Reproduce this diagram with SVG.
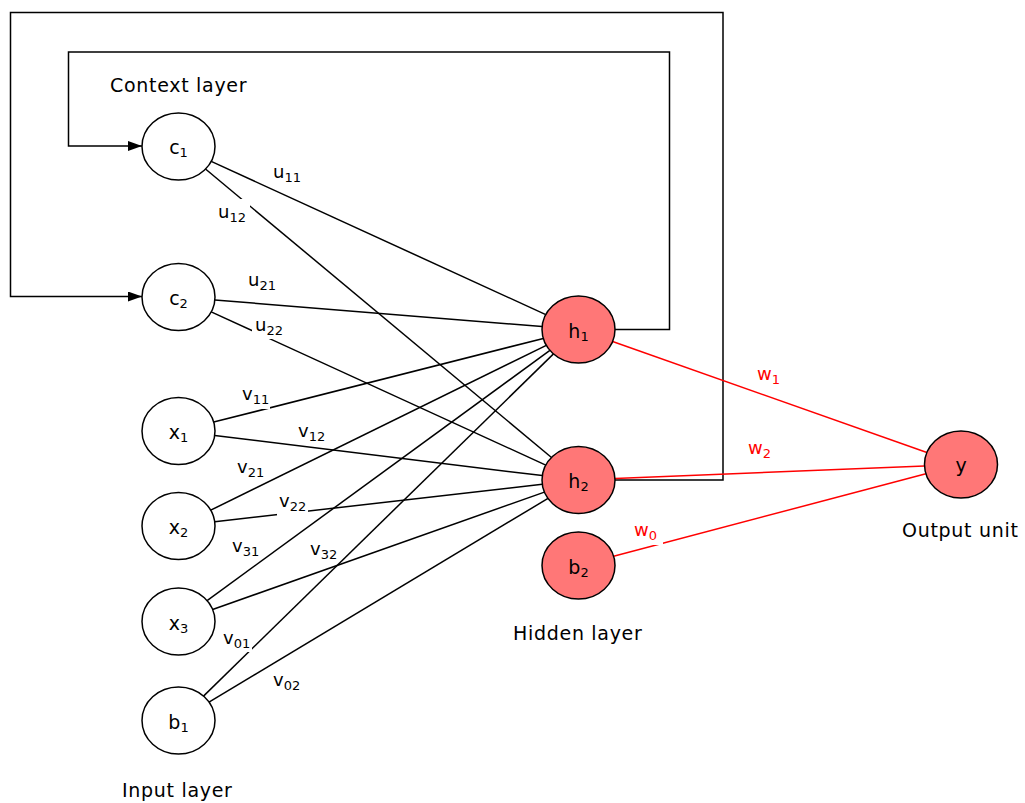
<svg xmlns="http://www.w3.org/2000/svg" width="1025" height="803" viewBox="0 0 1025 803">
<style>
.edge{stroke:#000;stroke-width:1.5;fill:none}
.red{stroke:#ff0000;stroke-width:1.5;fill:none}
.node{fill:#fff;stroke:#000;stroke-width:1.5}
.rnode{fill:#ff7777;stroke:#000;stroke-width:1.5}
.nl{font-family:"DejaVu Sans",sans-serif;font-size:19px;fill:#000;text-anchor:middle}
.el{font-family:"DejaVu Sans",sans-serif;font-size:18px;fill:#000}
.rl{font-family:"DejaVu Sans",sans-serif;font-size:18px;fill:#ff0000}
.sub{font-size:13px}
.big{font-family:"DejaVu Sans",sans-serif;font-size:19px;fill:#000;letter-spacing:0.7px}
.gap{fill:#fff}
</style>
<defs>
<marker id="arr" markerUnits="userSpaceOnUse" markerWidth="14" markerHeight="10" refX="14" refY="5" orient="auto">
<path d="M0,0 L14,5 L0,10 z" fill="#000"/>
</marker>
</defs>
<rect width="1025" height="803" fill="#fff"/>
<g id="connectors">
<polyline class="edge" points="615,480 723,480 723,12.5 10.5,12.5 10.5,296.5 142,296.5" marker-end="url(#arr)"/>
<polyline class="edge" points="615,329.5 669.5,329.5 669.5,52 68.5,52 68.5,146 142,146" marker-end="url(#arr)"/>
<line class="edge" x1="211.2" y1="161.4" x2="545.8" y2="314.6"/>
<line class="edge" x1="205.5" y1="169.0" x2="551.5" y2="457.5"/>
<line class="edge" x1="214.9" y1="300.0" x2="542.1" y2="326.5"/>
<line class="edge" x1="211.2" y1="311.9" x2="545.8" y2="465.1"/>
<line class="edge" x1="213.7" y1="422.1" x2="543.3" y2="338.4"/>
<line class="edge" x1="214.7" y1="435.4" x2="542.3" y2="475.6"/>
<line class="edge" x1="210.7" y1="510.2" x2="546.3" y2="345.3"/>
<line class="edge" x1="214.7" y1="521.8" x2="542.3" y2="484.2"/>
<line class="edge" x1="207.1" y1="600.6" x2="549.9" y2="350.4"/>
<line class="edge" x1="212.6" y1="609.5" x2="544.4" y2="492.1"/>
<line class="edge" x1="203.5" y1="696.1" x2="553.5" y2="353.9"/>
<line class="edge" x1="209.0" y1="702.1" x2="548.0" y2="498.4"/>
<line class="red" x1="612.6" y1="341.5" x2="926.9" y2="452.5"/>
<line class="red" x1="615.0" y1="478.5" x2="924.5" y2="466.0"/>
<line class="red" x1="613.6" y1="556.2" x2="925.9" y2="473.8"/>
</g>
<g id="edge-labels">
<rect class="gap" x="217" y="199" width="33" height="26"/>
<rect class="gap" x="252" y="316" width="34" height="23"/>
<rect class="gap" x="240" y="385" width="30" height="24"/>
<rect class="gap" x="277" y="490" width="31" height="26"/>
<rect class="gap" x="222" y="630" width="30" height="22"/>
<rect class="gap" x="633" y="524" width="30" height="21"/>
<text class="el" x="273" y="178">u<tspan class="sub" dy="4">11</tspan></text>
<text class="el" x="218" y="218">u<tspan class="sub" dy="4">12</tspan></text>
<text class="el" x="248" y="286">u<tspan class="sub" dy="4">21</tspan></text>
<text class="el" x="255" y="331">u<tspan class="sub" dy="4">22</tspan></text>
<text class="el" x="242" y="400">v<tspan class="sub" dy="4">11</tspan></text>
<text class="el" x="298" y="437">v<tspan class="sub" dy="4">12</tspan></text>
<text class="el" x="237" y="473">v<tspan class="sub" dy="4">21</tspan></text>
<text class="el" x="279" y="507">v<tspan class="sub" dy="4">22</tspan></text>
<text class="el" x="232" y="552">v<tspan class="sub" dy="4">31</tspan></text>
<text class="el" x="310" y="555">v<tspan class="sub" dy="4">32</tspan></text>
<text class="el" x="223" y="644">v<tspan class="sub" dy="4">01</tspan></text>
<text class="el" x="273" y="686">v<tspan class="sub" dy="4">02</tspan></text>
<text class="rl" x="757" y="380">w<tspan class="sub" dy="4">1</tspan></text>
<text class="rl" x="748" y="454">w<tspan class="sub" dy="4">2</tspan></text>
<text class="rl" x="634" y="536">w<tspan class="sub" dy="4">0</tspan></text>
</g>
<g id="c1"><ellipse class="node" cx="178.5" cy="146.5" rx="36.5" ry="33.5"/><text class="nl" x="178.5" y="154">c<tspan class="sub" dy="3">1</tspan></text></g>
<g id="c2"><ellipse class="node" cx="178.5" cy="297" rx="36.5" ry="33.5"/><text class="nl" x="178.5" y="305">c<tspan class="sub" dy="3">2</tspan></text></g>
<g id="x1"><ellipse class="node" cx="178.5" cy="431" rx="36.5" ry="33.5"/><text class="nl" x="178.5" y="439">x<tspan class="sub" dy="3">1</tspan></text></g>
<g id="x2"><ellipse class="node" cx="178.5" cy="526" rx="36.5" ry="33.5"/><text class="nl" x="178.5" y="534">x<tspan class="sub" dy="3">2</tspan></text></g>
<g id="x3"><ellipse class="node" cx="178.5" cy="621.5" rx="36.5" ry="33.5"/><text class="nl" x="178.5" y="629.5">x<tspan class="sub" dy="3">3</tspan></text></g>
<g id="b1"><ellipse class="node" cx="178.5" cy="720.5" rx="36.5" ry="33.5"/><text class="nl" x="178.5" y="728.5">b<tspan class="sub" dy="3">1</tspan></text></g>
<g id="h1"><ellipse class="rnode" cx="578.5" cy="329.5" rx="36.5" ry="33.5"/><text class="nl" x="578.5" y="337.5">h<tspan class="sub" dy="3">1</tspan></text></g>
<g id="h2"><ellipse class="rnode" cx="578.5" cy="480" rx="36.5" ry="33.5"/><text class="nl" x="578.5" y="488">h<tspan class="sub" dy="3">2</tspan></text></g>
<g id="b2"><ellipse class="rnode" cx="578.5" cy="565.5" rx="36.5" ry="33.5"/><text class="nl" x="578.5" y="573.5">b<tspan class="sub" dy="3">2</tspan></text></g>
<g id="y"><ellipse class="rnode" cx="961" cy="464.5" rx="36.5" ry="33.5"/><text class="nl" x="961" y="472">y</text></g>
<g id="layer-labels">
<text class="big" x="110" y="92">Context layer</text>
<text class="big" x="122" y="797">Input layer</text>
<text class="big" x="513" y="640">Hidden layer</text>
<text class="big" x="902" y="537">Output unit</text>
</g>
</svg>
